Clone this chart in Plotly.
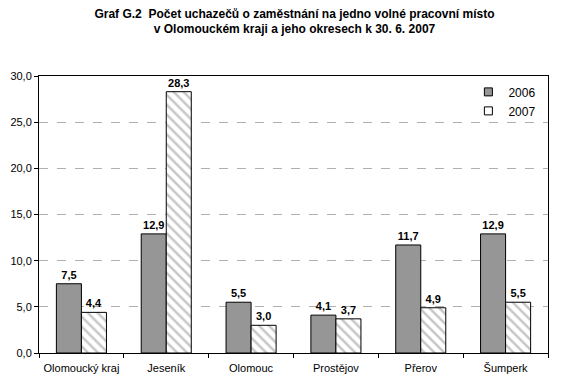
import plotly.graph_objects as go

categories = ["Olomoucký kraj", "Jeseník", "Olomouc", "Prostějov", "Přerov", "Šumperk"]
values_2006 = [7.5, 12.9, 5.5, 4.1, 11.7, 12.9]
values_2007 = [4.4, 28.3, 3.0, 3.7, 4.9, 5.5]
tick_vals = [0, 5, 10, 15, 20, 25, 30]

def fmt(v):
    return f"{v:.1f}".replace(".", ",")

label_font = dict(family="Liberation Sans", size=11, color="black", weight="bold")

fig = go.Figure()
fig.add_trace(go.Bar(
    x=categories, y=values_2006, name="2006", showlegend=False,
    marker=dict(color="#969696", line=dict(color="black", width=1)),
    text=[fmt(v) for v in values_2006], textposition="outside",
    textfont=label_font, cliponaxis=False,
))
fig.add_trace(go.Bar(
    x=categories, y=values_2007, name="2007", showlegend=False,
    marker=dict(color="white", line=dict(color="black", width=1),
                pattern=dict(shape="\\", fgcolor="#8c8c8c", bgcolor="white", size=7, solidity=0.35)),
    text=[fmt(v) for v in values_2007], textposition="outside",
    textfont=label_font, cliponaxis=False,
))
# legend entries
fig.add_trace(go.Scatter(
    x=[None], y=[None], mode="markers", name="2006",
    marker=dict(symbol="square", size=8, color="#969696", line=dict(color="black", width=1)),
))
fig.add_trace(go.Scatter(
    x=[None], y=[None], mode="markers", name="2007",
    marker=dict(symbol="square", size=8, color="white", line=dict(color="black", width=1)),
))

fig.update_layout(
    width=573, height=386,
    margin=dict(l=31, r=33, t=68, b=41, autoexpand=False),
    paper_bgcolor="white", plot_bgcolor="white",
    barmode="group", bargap=0.41, bargroupgap=0,
    separators=",.",
    font=dict(family="Liberation Sans", size=11, color="black"),
    title=dict(
        text="<b>Graf G.2  Počet uchazečů o zaměstnání na jedno volné pracovní místo<br>v Olomouckém kraji a jeho okresech k 30. 6. 2007</b>",
        x=0.5, xanchor="center", y=0.975, yanchor="top",
        font=dict(family="Liberation Sans Narrow, Liberation Sans", size=12, color="black"),
    ),
    legend=dict(x=0.987, y=0.995, xanchor="right", yanchor="top",
                bgcolor="rgba(0,0,0,0)", font=dict(size=12),
                itemwidth=30, tracegroupgap=0),
    showlegend=True,
)
fig.update_yaxes(
    range=[0, 30], tickvals=tick_vals, tickformat=".1f",
    showgrid=True, gridcolor="#b0b0b0", griddash="dash", gridwidth=1,
    showline=True, linecolor="black", linewidth=1, mirror=True,
    ticks="outside", ticklen=4, tickcolor="black",
    zeroline=False,
)
fig.update_xaxes(
    showline=True, linecolor="black", linewidth=1, mirror=True,
    ticks="outside", ticklen=4, tickcolor="black", tickson="boundaries",
    showgrid=False, tickangle=0, ticklabelstandoff=5,
)

fig.write_html("out.html")
